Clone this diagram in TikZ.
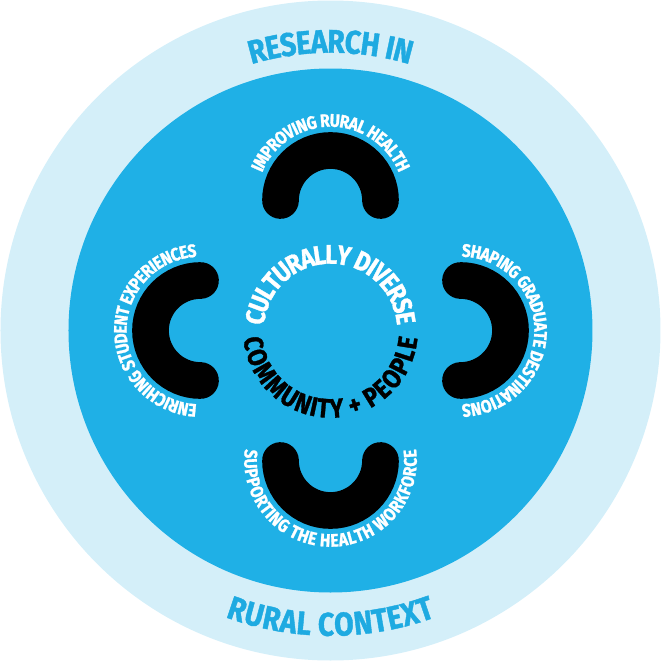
\documentclass[tikz,border=0pt]{standalone}
\usepackage{fontspec}
\newfontfamily\capsfont[FakeStretch=0.86,FakeBold=1.2]{Fira Sans}
\usetikzlibrary{decorations.text}
\definecolor{skyblue}{RGB}{31,176,230}
\definecolor{paleblue}{RGB}{212,239,249}
\definecolor{rimblue}{RGB}{30,170,225}
\newcommand\rimfont{\capsfont\bfseries\fontsize{28}{30}\selectfont}
\newcommand\hubfont{\capsfont\bfseries\fontsize{23}{25}\selectfont}
\newcommand\labfont{\capsfont\bfseries\fontsize{15.5}{17}\selectfont}

\begin{document}
\begin{tikzpicture}[x=0.03cm,y=0.03cm,
  ushape/.style={line width=1.1cm,line cap=round},
  rimtext/.style={decorate,decoration={text along path,text align=center,
    raise=-9.6pt,text={|\rimfont\color{rimblue}|#1}}},
  hubtext/.style 2 args={decorate,decoration={text along path,text align=center,
    raise=-7.9pt,text={|\hubfont\color{#1}|#2}}},
  labtext/.style={decorate,decoration={text along path,text align=center,
    raise=-5.3pt,text={|\labfont\color{white}|#1}}}]
  \useasboundingbox (-330.5,-330.5) rectangle (330.5,330.5);
  \fill[paleblue] (0,0) circle[radius=330];
  \fill[skyblue] (0,0) circle[radius=262];
  \path[rimtext={RESEARCH IN}] (120:289) arc[start angle=120,end angle=60,radius=289];
  \path[rimtext={RURAL CONTEXT}] (240:294) arc[start angle=240,end angle=300,radius=294];
  \path[hubtext={white}{CULTURALLY DIVERSE}] (190:76) arc[start angle=190,end angle=-10,radius=76];
  \path[hubtext={black}{COMMUNITY + PEOPLE}] (170:78) arc[start angle=170,end angle=370,radius=78];
  \coordinate (health) at (90:130);
  \coordinate (students) at (180:130);
  \coordinate (graduates) at (0:130);
  \coordinate (workforce) at (270:130);
  \foreach \ang in {90,180,0,270}
    \draw[ushape] (\ang:130) ++(\ang+90:50) arc[start angle=\ang+90,end angle=\ang-90,radius=50];
  \path[labtext={IMPROVING RURAL HEALTH}] ([shift={(205:80)}]health)
    arc[start angle=205,end angle=-25,radius=80];
  \path[labtext={ENRICHING STUDENT EXPERIENCES}] ([shift={(295:80)}]students)
    arc[start angle=295,end angle=65,radius=80];
  \path[labtext={SHAPING GRADUATE DESTINATIONS}] ([shift={(115:80)}]graduates)
    arc[start angle=115,end angle=-115,radius=80];
  \path[labtext={SUPPORTING THE HEALTH WORKFORCE}] ([shift={(155:80)}]workforce)
    arc[start angle=155,end angle=385,radius=80];
\end{tikzpicture}
\end{document}
